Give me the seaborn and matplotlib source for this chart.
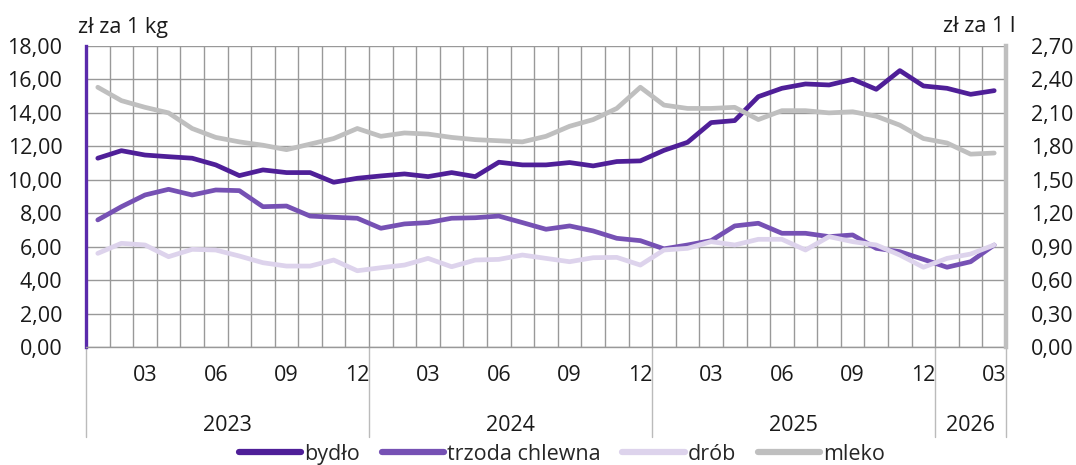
import numpy as np
import pandas as pd
import seaborn as sns
import matplotlib.pyplot as plt
import matplotlib.transforms as mtransforms

# monthly data, Jan 2023 - Mar 2026
miesiace = list(range(1, 40))
bydlo = [11.29, 11.74, 11.48, 11.38, 11.29, 10.89, 10.25, 10.59, 10.43, 10.43, 9.85, 10.09, 10.23,
         10.35, 10.19, 10.43, 10.19, 11.05, 10.89, 10.89, 11.03, 10.83, 11.09, 11.13, 11.76, 12.24,
         13.42, 13.54, 14.97, 15.47, 15.73, 15.67, 16.01, 15.41, 16.53, 15.61, 15.47, 15.11, 15.33]
trzoda = [7.60, 8.39, 9.09, 9.43, 9.09, 9.39, 9.35, 8.39, 8.43, 7.83, 7.76, 7.70, 7.10,
          7.36, 7.44, 7.70, 7.73, 7.83, 7.44, 7.04, 7.24, 6.94, 6.50, 6.36, 5.87, 6.10,
          6.36, 7.24, 7.40, 6.80, 6.80, 6.60, 6.70, 5.90, 5.70, 5.24, 4.77, 5.10, 6.10]
drob = [5.60, 6.20, 6.10, 5.40, 5.84, 5.80, 5.44, 5.04, 4.84, 4.84, 5.20, 4.56, 4.74,
        4.90, 5.30, 4.80, 5.20, 5.24, 5.50, 5.30, 5.10, 5.34, 5.36, 4.90, 5.80, 5.90,
        6.30, 6.10, 6.44, 6.44, 5.80, 6.60, 6.30, 6.10, 5.50, 4.77, 5.30, 5.56, 6.10]
mleko = [2.33, 2.21, 2.15, 2.10, 1.96, 1.88, 1.84, 1.81, 1.77, 1.82, 1.87, 1.96, 1.89,
         1.92, 1.91, 1.88, 1.86, 1.85, 1.84, 1.89, 1.98, 2.04, 2.14, 2.33, 2.17, 2.14,
         2.14, 2.15, 2.04, 2.12, 2.12, 2.10, 2.11, 2.07, 1.99, 1.87, 1.83, 1.73, 1.74]

mies_ticks = [3, 6, 9, 12, 15, 18, 21, 24, 27, 30, 33, 36, 39]
mies_labels = ["03", "06", "09", "12"] * 3 + ["03"]
lata = ["2023", "2024", "2025", "2026"]
lata_srodek = [6.5, 18.5, 30.5, 38]
lata_granice = [0.5, 12.5, 24.5, 36.5, 39.5]

df = pd.DataFrame({"m": miesiace, "bydło": bydlo, "trzoda chlewna": trzoda,
                   "drób": drob, "mleko": mleko})

sns.set_theme(style="white")
plt.rcParams["font.family"] = ["Open Sans", "DejaVu Sans"]
FS = 15.5

c_bydlo = "#4f1f98"
c_trzoda = "#7651b4"
c_drob = "#ddd3ec"
c_mleko = "#bfbfbf"
grid_c = "#999999"
txt_c = "#1a1a1a"

fig = plt.figure(figsize=(10.76, 4.65), dpi=100)
ax = fig.add_axes([86 / 1076, 118 / 465, 920 / 1076, 301 / 465])
ax2 = ax.twinx()

lw = 3.4
sns.lineplot(data=df, x="m", y="bydło", ax=ax, color=c_bydlo, linewidth=lw, label="bydło", legend=False)
sns.lineplot(data=df, x="m", y="trzoda chlewna", ax=ax, color=c_trzoda, linewidth=lw, label="trzoda chlewna", legend=False)
sns.lineplot(data=df, x="m", y="drób", ax=ax, color=c_drob, linewidth=lw, label="drób", legend=False)
sns.lineplot(data=df, x="m", y="mleko", ax=ax2, color=c_mleko, linewidth=lw, label="mleko", legend=False)

ax.set_xlim(0.5, 39.5)
ax.set_ylim(0, 18)
ax2.set_ylim(0, 2.7)
ax.set_yticks(np.arange(0, 18.1, 2))
ax.set_yticklabels([f"{v:.2f}".replace(".", ",") for v in np.arange(0, 18.1, 2)])
ax2.set_yticks(np.arange(0, 2.71, 0.3))
ax2.set_yticklabels([f"{v:.2f}".replace(".", ",") for v in np.arange(0, 2.71, 0.3)])
ax.set_xlabel("")
ax.set_ylabel("")
ax2.set_ylabel("")

ax.set_xticks(mies_ticks)
ax.set_xticklabels(mies_labels)
ax.set_xticks(np.arange(0.5, 39.6, 1), minor=True)
ax.tick_params(axis="x", which="both", length=0, pad=13, labelsize=FS, colors=txt_c)
ax.tick_params(axis="y", length=0, pad=17, labelsize=FS, colors=txt_c)
ax2.tick_params(axis="y", length=0, pad=18, labelsize=FS, colors=txt_c)

ax.grid(True, axis="y", color=grid_c, linewidth=1)
ax.grid(True, axis="x", which="minor", color=grid_c, linewidth=1)
ax.grid(False, axis="x", which="major")
ax.set_axisbelow(True)

for s in ["top", "right"]:
    ax.spines[s].set_visible(False)
ax.spines["left"].set_color("#5a2aab")
ax.spines["left"].set_linewidth(2.4)
ax.spines["bottom"].set_color(grid_c)
ax.spines["bottom"].set_linewidth(1)
for s in ["top", "left", "bottom"]:
    ax2.spines[s].set_visible(False)
ax2.spines["right"].set_color(c_mleko)
ax2.spines["right"].set_linewidth(3.2)

trans = mtransforms.blended_transform_factory(ax.transData, ax.transAxes)
for g in lata_granice:
    ax.plot([g, g], [0, -0.3], transform=trans, color="#bbbbbb", linewidth=1, clip_on=False)
for rok, x in zip(lata, lata_srodek):
    ax.text(x, -0.26, rok, transform=trans, ha="center", va="center", fontsize=FS, color=txt_c)

fig.text(78 / 1076, 1 - 27 / 465, "zł za 1 kg", ha="left", va="center", fontsize=FS, color=txt_c)
fig.text(943 / 1076, 1 - 27 / 465, "zł za 1 l", ha="left", va="center", fontsize=FS, color=txt_c)

h1, l1 = ax.get_legend_handles_labels()
h2, l2 = ax2.get_legend_handles_labels()
leg = fig.legend(h1 + h2, l1 + l2, loc="center", bbox_to_anchor=(562 / 1076, 1 - 454 / 465),
                 ncol=4, frameon=False, fontsize=FS, handlelength=2.9, handletextpad=0.15,
                 columnspacing=1.0)
for line in leg.get_lines():
    line.set_linewidth(4.5)
    line.set_solid_capstyle("round")

fig.savefig("out.png", dpi=100)
